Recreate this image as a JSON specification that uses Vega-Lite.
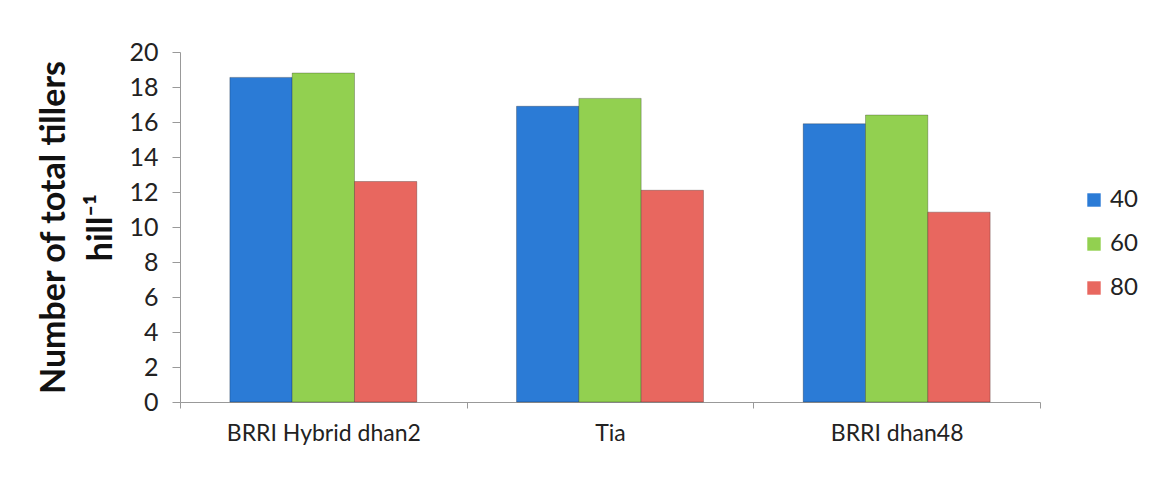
{
  "$schema": "https://vega.github.io/schema/vega-lite/v6.json",
  "autosize": {"type": "none"},
  "width": 860,
  "height": 350,
  "padding": {"left": 180, "top": 52, "right": 126, "bottom": 88},
  "background": "white",
  "data": {
    "values": [
      {"Variety": "BRRI Hybrid dhan2", "Days": "40", "Tillers": 18.55},
      {"Variety": "BRRI Hybrid dhan2", "Days": "60", "Tillers": 18.8},
      {"Variety": "BRRI Hybrid dhan2", "Days": "80", "Tillers": 12.6},
      {"Variety": "Tia", "Days": "40", "Tillers": 16.9},
      {"Variety": "Tia", "Days": "60", "Tillers": 17.35},
      {"Variety": "Tia", "Days": "80", "Tillers": 12.1},
      {"Variety": "BRRI dhan48", "Days": "40", "Tillers": 15.9},
      {"Variety": "BRRI dhan48", "Days": "60", "Tillers": 16.4},
      {"Variety": "BRRI dhan48", "Days": "80", "Tillers": 10.85}
    ]
  },
  "mark": {"type": "bar", "stroke": "#000000", "strokeOpacity": 0.25, "strokeWidth": 1},
  "encoding": {
    "x": {
      "field": "Variety",
      "type": "nominal",
      "sort": ["BRRI Hybrid dhan2", "Tia", "BRRI dhan48"],
      "scale": {"paddingInner": 0, "paddingOuter": 0},
      "axis": {
        "title": null,
        "labelAngle": 0,
        "labelLimit": 400,
        "tickBand": "extent",
        "labelFont": "Lato",
        "labelFontSize": 23,
        "labelColor": "#222222",
        "labelPadding": 14,
        "tickSize": 6,
        "domainColor": "#999999",
        "tickColor": "#999999"
      }
    },
    "xOffset": {
      "field": "Days",
      "type": "nominal",
      "scale": {"paddingInner": 0, "paddingOuter": 0.8}
    },
    "y": {
      "field": "Tillers",
      "type": "quantitative",
      "scale": {"domain": [0, 20], "nice": false},
      "axis": {
        "values": [0, 2, 4, 6, 8, 10, 12, 14, 16, 18, 20],
        "grid": false,
        "title": ["Number of total tillers", "hill⁻¹"],
        "titleFont": "Lato",
        "titleFontSize": 34,
        "titleFontWeight": "bold",
        "titleColor": "#111111",
        "titleLineHeight": 47,
        "titlePadding": 10,
        "labelFont": "Lato",
        "labelFontSize": 25,
        "labelColor": "#222222",
        "labelPadding": 14,
        "tickSize": 8,
        "domainColor": "#999999",
        "tickColor": "#999999"
      }
    },
    "color": {
      "field": "Days",
      "type": "nominal",
      "scale": {"domain": ["40", "60", "80"], "range": ["#2B7BD6", "#92D050", "#E8675F"]},
      "legend": {
        "title": null,
        "orient": "none",
        "legendX": 902,
        "legendY": 136,
        "symbolType": "square",
        "symbolSize": 180,
        "symbolStrokeWidth": 0,
        "labelFont": "Lato",
        "labelFontSize": 24,
        "labelColor": "#222222",
        "rowPadding": 20
      }
    }
  },
  "config": {"view": {"stroke": null}}
}
